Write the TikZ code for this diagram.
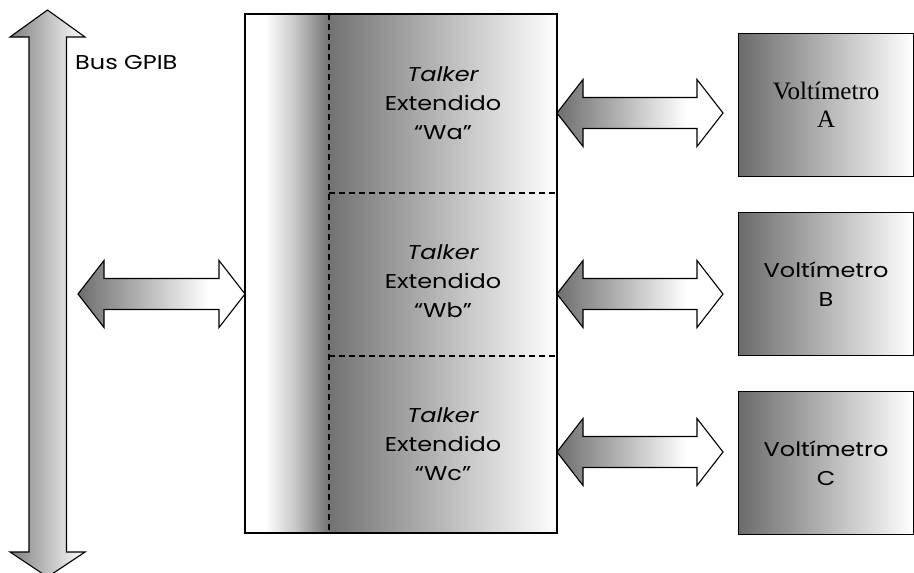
\documentclass[tikz,border=0pt]{standalone}
\usepackage{fontspec}
\setmainfont{Poppins}[FakeStretch=1.2]
\newfontfamily\timesfont{Liberation Serif}
\usetikzlibrary{calc}
\pgfdeclarehorizontalshading{stripshade}{100bp}{color(0bp)=(white); color(25bp)=(white); color(37bp)=(white); color(55bp)=(black!22); color(75bp)=(black!55); color(100bp)=(black!55)}
\pgfdeclarehorizontalshading{arrowshade}{100bp}{color(0bp)=(black!57); color(25bp)=(black!57); color(64bp)=(white); color(100bp)=(white)}
\newcommand\hdblarrow[2]{%
  \shade[draw, line width=1.1pt, shading=arrowshade]
    (#1) -- ($(#1)+(26,-33.5)$) -- ($(#1)+(26,-15.5)$) -- ($(#2)+(-26,-15.5)$)
    -- ($(#2)+(-26,-33.5)$) -- (#2) -- ($(#2)+(-26,33.5)$) -- ($(#2)+(-26,15.5)$)
    -- ($(#1)+(26,15.5)$) -- ($(#1)+(26,33.5)$) -- cycle;}
\tikzset{
  txt/.style={align=center, font=\fontsize{20}{29}\selectfont, inner sep=0pt},
  vbox/.style={draw, line width=1.1pt, left color=black!58, right color=white,
    anchor=north west, minimum width=175pt, minimum height=143pt, inner sep=0pt,
    align=center},
  sepline/.style={dashed, dash pattern=on 6pt off 4pt, line width=1.1pt},
}
\begin{document}
\begin{tikzpicture}[x=1pt,y=-1pt, line join=miter]
\useasboundingbox (0,0) rectangle (914,573);
\clip (0,0) rectangle (914,573);

% Bus GPIB vertical double arrow
\coordinate (bustop) at (47.5,10);
\coordinate (busbot) at (47.5,577);
\shade[draw, line width=1.1pt, left color=black!50, right color=white]
  (bustop) -- ($(bustop)+(37.5,27)$) -- ($(bustop)+(19,27)$) -- ($(busbot)+(19,-25)$)
  -- ($(busbot)+(37.5,-25)$) -- (busbot) -- ($(busbot)+(-37.5,-25)$) -- ($(busbot)+(-18.5,-25)$)
  -- ($(bustop)+(-18.5,27)$) -- ($(bustop)+(-37.5,27)$) -- cycle;
\node[txt, anchor=base west] (buslabel) at (75,69) {Bus GPIB};

% Main box
\coordinate (mainNW) at (245,14);
\coordinate (mainSE) at (557,533);
\coordinate (divN) at (329,14);
\coordinate (divS) at (329,533);
\shade[shading=stripshade] (mainNW) rectangle (divS);
\shade[left color=black!55, right color=white] (divN) rectangle (mainSE);
\draw[sepline] (divN) -- (divS);
\coordinate (rowAB) at (329,193);
\coordinate (rowBC) at (329,356);
\draw[sepline] (rowAB) -- (rowAB -| mainSE);
\draw[sepline] (rowBC) -- (rowBC -| mainSE);
\draw[line width=1.1pt] (mainNW) rectangle (mainSE);

\node[txt] (talkA) at (443,103) {\itshape Talker\\Extendido\\“Wa”};
\node[txt] (talkB) at (443,281) {\itshape Talker\\Extendido\\“Wb”};
\node[txt] (talkC) at (443,444) {\itshape Talker\\Extendido\\“Wc”};

% Voltimetros
\node[vbox, font=\timesfont\fontsize{25}{28}\selectfont] (voltA) at (738,33) {Voltímetro\\A};
\node[vbox, font=\fontsize{20}{29}\selectfont] (voltB) at (738,212) {Voltímetro\\B};
\node[vbox, font=\fontsize{20}{29}\selectfont] (voltC) at (738,391) {Voltímetro\\C};

% Double arrows
\coordinate (busR) at (78,294);
\coordinate (mainL) at (245,294);
\hdblarrow{busR}{mainL}
\coordinate (aL) at (557,113);
\coordinate (aR) at (723,113);
\hdblarrow{aL}{aR}
\coordinate (bL) at (557,294);
\coordinate (bR) at (723,294);
\hdblarrow{bL}{bR}
\coordinate (cL) at (557,452);
\coordinate (cR) at (723,452);
\hdblarrow{cL}{cR}
\end{tikzpicture}
\end{document}
